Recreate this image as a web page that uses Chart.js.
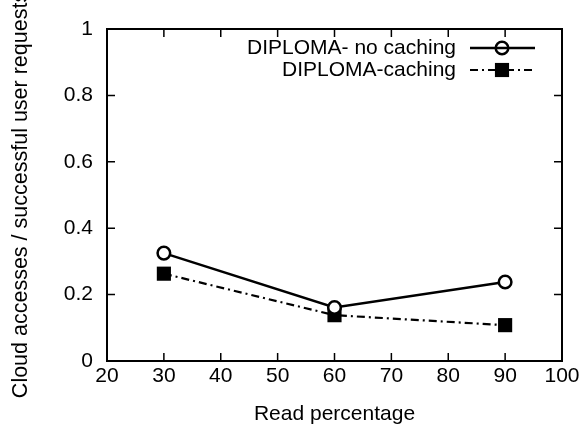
<!DOCTYPE html>
<html>
<head>
<meta charset="utf-8">
<script src="https://cdn.jsdelivr.net/npm/chart.js@4.4.1/dist/chart.umd.min.js"></script>
<style>
  html, body { margin: 0; padding: 0; background: #fff; }
  #wrap { width: 583px; height: 427px; }
</style>
</head>
<body>
<div id="wrap"><canvas id="c" width="583" height="427"></canvas></div>
<script>
const readPct = [30, 60, 90];
const noCaching = [0.325, 0.161, 0.238];
const caching = [0.263, 0.138, 0.108];
const xTicks = [20, 30, 40, 50, 60, 70, 80, 90, 100];
const yTicks = [0, 0.2, 0.4, 0.6, 0.8, 1];
const seriesNames = ["DIPLOMA- no caching", "DIPLOMA-caching"];

const FONT = "'Liberation Sans', Arial, Helvetica, sans-serif";

// gnuplot style box with inward ticks on all four sides
const frame = {
  id: "frame",
  afterDatasetsDraw(chart) {
    const { ctx, chartArea: a, scales } = chart;
    ctx.save();
    ctx.strokeStyle = "#000";
    ctx.lineWidth = 2;
    ctx.strokeRect(a.left, a.top, a.right - a.left, a.bottom - a.top);
    ctx.lineWidth = 1.5;
    ctx.beginPath();
    xTicks.forEach(v => {
      const x = scales.x.getPixelForValue(v);
      ctx.moveTo(x, a.bottom); ctx.lineTo(x, a.bottom - 8);
      ctx.moveTo(x, a.top); ctx.lineTo(x, a.top + 8);
    });
    yTicks.forEach(v => {
      const y = scales.y.getPixelForValue(v);
      ctx.moveTo(a.left, y); ctx.lineTo(a.left + 8, y);
      ctx.moveTo(a.right, y); ctx.lineTo(a.right - 8, y);
    });
    ctx.stroke();

    // key, top right
    ctx.font = "21px " + FONT;
    ctx.fillStyle = "#000";
    ctx.textAlign = "right";
    ctx.textBaseline = "middle";
    chart.data.datasets.forEach((ds, i) => {
      const y = 48 + i * 22;
      ctx.fillText(seriesNames[i], 456, y);
      ctx.lineWidth = ds.borderWidth;
      ctx.setLineDash(ds.borderDash || []);
      ctx.beginPath();
      ctx.moveTo(470, y); ctx.lineTo(535, y);
      ctx.stroke();
      ctx.setLineDash([]);
      if (ds.pointStyle === "circle") {
        ctx.beginPath();
        ctx.arc(502, y, ds.pointRadius, 0, Math.PI * 2);
        ctx.lineWidth = ds.pointBorderWidth;
        ctx.stroke();
      } else {
        const r = ds.pointRadius * Math.SQRT1_2;
        ctx.fillRect(502 - r, y - r, 2 * r, 2 * r);
      }
    });
    ctx.restore();
  }
};

new Chart(document.getElementById("c"), {
  type: "line",
  data: {
    datasets: [
      {
        label: seriesNames[0],
        data: readPct.map((x, i) => ({ x, y: noCaching[i] })),
        borderColor: "#000",
        borderWidth: 2.5,
        pointStyle: "circle",
        pointRadius: 6.3,
        pointBorderWidth: 2.5,
        pointBackgroundColor: "#fff",
        pointBorderColor: "#000"
      },
      {
        label: seriesNames[1],
        data: readPct.map((x, i) => ({ x, y: caching[i] })),
        borderColor: "#000",
        borderWidth: 2.2,
        borderDash: [8, 4, 2, 4],
        pointStyle: "rect",
        pointRadius: 10,
        pointBorderWidth: 0,
        pointBackgroundColor: "#000",
        pointBorderColor: "#000"
      }
    ]
  },
  options: {
    responsive: false,
    animation: false,
    layout: { padding: { left: 0, right: 21, top: 29, bottom: 0 } },
    plugins: { legend: { display: false }, tooltip: { enabled: false } },
    scales: {
      x: {
        type: "linear",
        min: 20,
        max: 100,
        afterBuildTicks: s => { s.ticks = xTicks.map(v => ({ value: v })); },
        afterFit: s => { s.height = 66; },
        grid: { display: false, drawTicks: false },
        border: { display: false },
        ticks: { color: "#000", font: { family: FONT, size: 21 }, padding: 3 },
        title: { display: true, text: "Read percentage", color: "#000", font: { family: FONT, size: 21 }, padding: { top: 10, bottom: 0 } }
      },
      y: {
        type: "linear",
        min: 0,
        max: 1,
        afterBuildTicks: s => { s.ticks = yTicks.map(v => ({ value: v })); },
        afterFit: s => { s.width = 107; },
        grid: { display: false, drawTicks: false },
        border: { display: false },
        ticks: { color: "#000", font: { family: FONT, size: 21 }, padding: 14, callback: v => String(v) },
        title: { display: true, text: "Cloud accesses / successful user requests", color: "#000", font: { family: FONT, size: 21.5 }, padding: { top: 8, bottom: 4 } }
      }
    }
  },
  plugins: [frame]
});
</script>
</body>
</html>
